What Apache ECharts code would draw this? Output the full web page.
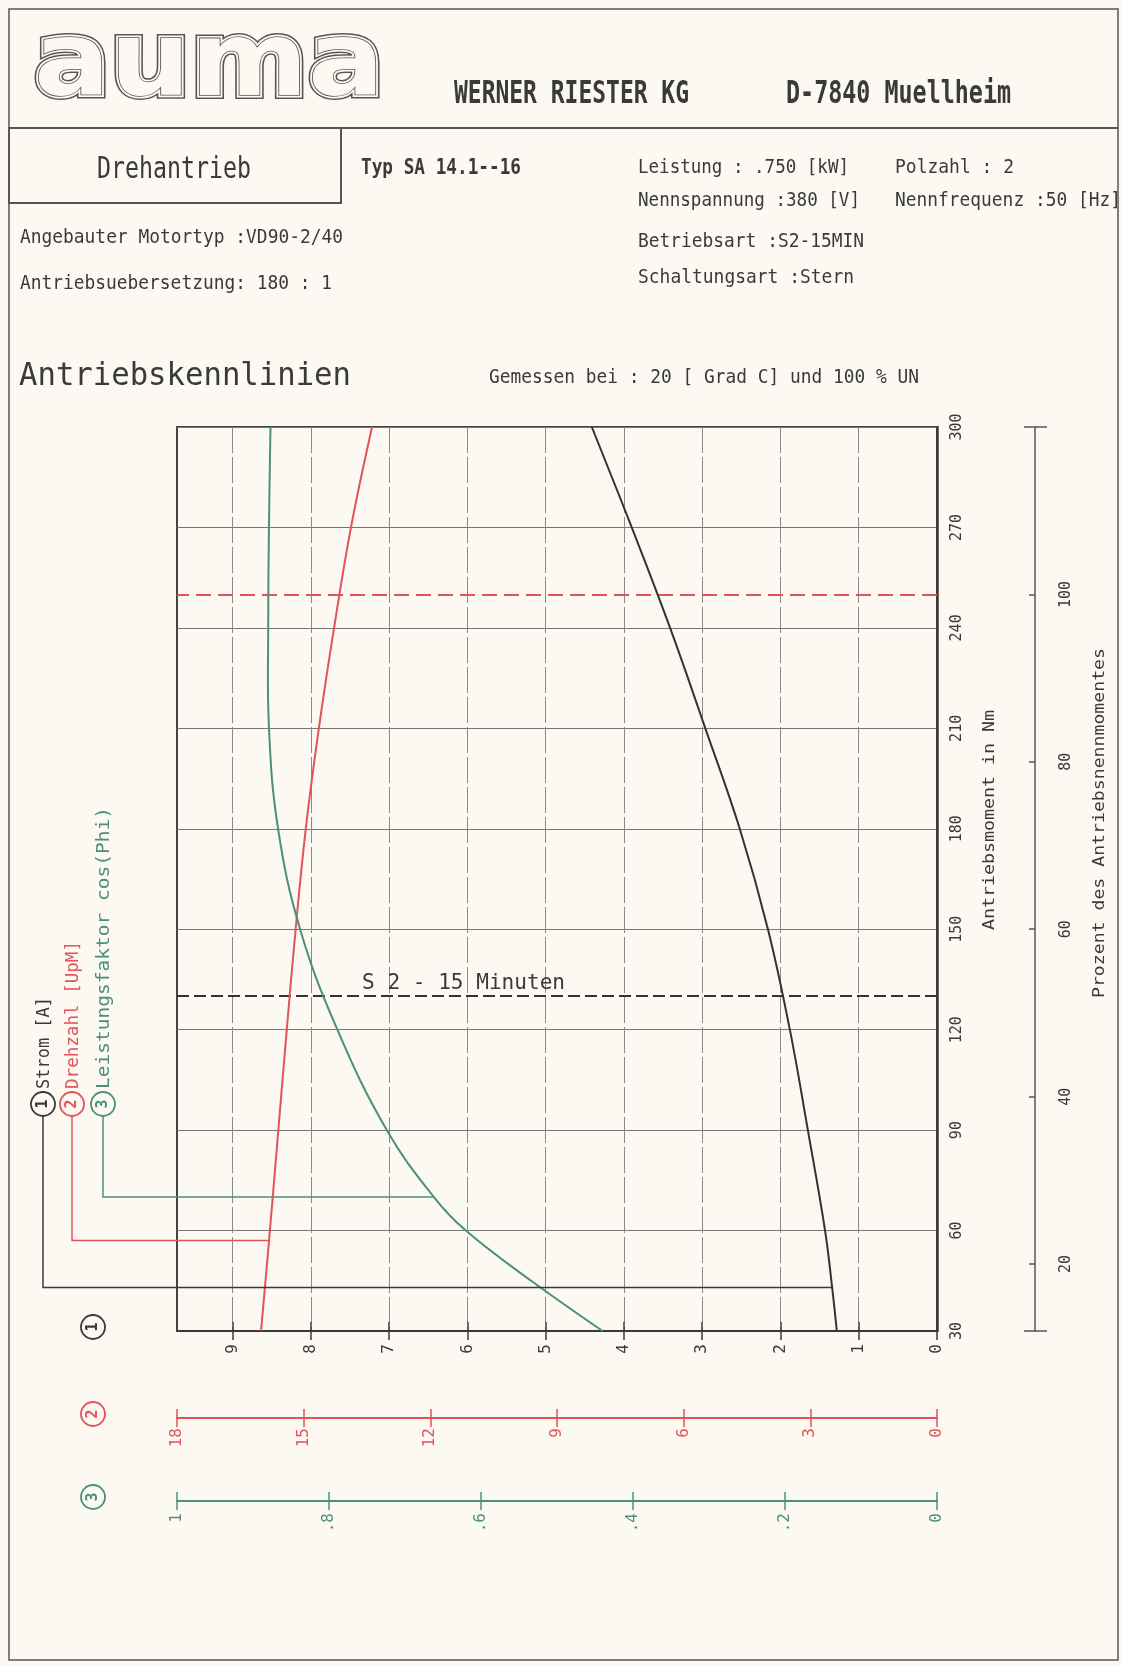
<!DOCTYPE html>
<html>
<head>
<meta charset="utf-8">
<title>Antriebskennlinien SA 14.1-16</title>
<script src="https://cdn.jsdelivr.net/npm/echarts@6/dist/echarts.min.js"></script>
<style>
  html, body { margin: 0; padding: 0; background: #fbf9f1; }
  #chart { width: 1122px; height: 1666px; }
</style>
</head>
<body>
<div id="chart"></div>
<script>
// ---- Kennlinien (Antriebsmoment in Nm -> Messwert) ----
const stromTorque = [30, 43, 60, 90, 120, 150, 180, 210, 240, 270, 300];
const stromAmp    = [1.28, 1.34, 1.43, 1.65, 1.88, 2.16, 2.52, 2.96, 3.41, 3.90, 4.41];

const drehTorque  = [30, 57, 90, 120, 150, 180, 210, 240, 270, 300];
const drehRpm     = [16.01, 15.82, 15.60, 15.40, 15.19, 14.95, 14.64, 14.28, 13.88, 13.38];

const cosTorque   = [30, 45, 60, 70, 90, 120, 150, 180, 210, 240, 270, 300];
const cosPhi      = [0.440, 0.534, 0.620, 0.662, 0.724, 0.789, 0.838, 0.867, 0.879, 0.880, 0.879, 0.877];

// point of each curve where its legend leader line ends
const leaderIndex = [1, 1, 3];

// ---- Skalen ----
const torqueMin = 30, torqueMax = 300, torqueStep = 30;
const nennTorque = 250;          // 100 % Antriebsnennmoment
const s2Torque = 130;            // S2 - 15 Minuten
const percentTicks = [20, 40, 60, 80, 100];
const stromTicks = [0, 1, 2, 3, 4, 5, 6, 7, 8, 9];
const drehTicks = [0, 3, 6, 9, 12, 15, 18];
const cosTicks = [0, 0.2, 0.4, 0.6, 0.8, 1];
const stromMax = 9.71, drehMax = 18, cosMax = 1;

// ---- Beschriftung ----
const legendNames = ['Strom [A]', 'Drehzahl [UpM]', 'Leistungsfaktor cos(Phi)'];
const headerFirm = 'WERNER RIESTER KG';
const headerCity = 'D-7840 Muellheim';
const productName = 'Drehantrieb';
const productType = 'Typ SA 14.1--16';
const motorLines = ['Angebauter Motortyp :VD90-2/40', 'Antriebsuebersetzung: 180 : 1'];
const ratingLeft = ['Leistung : .750 [kW]', 'Nennspannung :380 [V]', 'Betriebsart :S2-15MIN', 'Schaltungsart :Stern'];
const ratingRight = ['Polzahl : 2', 'Nennfrequenz :50 [Hz]'];
const chartTitle = 'Antriebskennlinien';
const chartCondition = 'Gemessen bei : 20 [ Grad C] und 100 % UN';
const s2Label = 'S 2 - 15 Minuten';
const torqueAxisName = 'Antriebsmoment in Nm';
const percentAxisName = 'Prozent des Antriebsnennmomentes';

// ---- Stil ----
const PAPER = '#fbf9f1';
const INK = '#3a3a3a';
const RED = '#e2535b';
const GREEN = '#4c9174';
const GRIDC = '#767676';
const MONO = '"DejaVu Sans Mono", "Liberation Mono", monospace';
const SANS = '"DejaVu Sans", "Liberation Sans", sans-serif';
const GRID = { left: 177, top: 427, width: 760, height: 904 };

const chart = echarts.init(document.getElementById('chart'), null, { renderer: 'canvas', width: 1122, height: 1666 });

function bottomAxis(o) {
  return {
    type: 'value', min: 0, max: o.max, interval: o.interval, inverse: true,
    position: 'bottom', offset: o.offset,
    axisLine: { show: o.line, onZero: false, lineStyle: { color: o.color, width: 2 } },
    axisTick: { show: true, inside: !!o.inside, length: 9, customValues: o.ticks,
                lineStyle: { color: o.color, width: 1.5 } },
    axisLabel: { show: !o.inside, customValues: o.ticks, rotate: 90, margin: o.margin,
                 color: o.color, fontFamily: MONO, fontSize: 16, formatter: o.fmt },
    splitLine: { show: !!o.split, lineStyle: { color: '#8a8a8a', width: 1, type: [26, 4] } }
  };
}
const cosFmt = v => (v === 0 ? '0' : v === 1 ? '1' : '.' + Math.round(v * 10));

// one smooth curve per measured characteristic, drawn through the axis scales
function curveSeries(name, xIndex, points, color) {
  return {
    name, type: 'custom', xAxisIndex: xIndex, yAxisIndex: 0, data: points, z: 5, silent: true,
    encode: { x: 0, y: 1 },
    renderItem: (params, api) => {
      if (params.dataIndex !== 0) return null;
      const pts = points.map(p => api.coord(p));
      return {
        type: 'polyline',
        shape: { points: pts, smooth: 0.4 },
        style: { stroke: color, lineWidth: 2, fill: null }
      };
    }
  };
}

const stromData = stromTorque.map((t, i) => [stromAmp[i], t]);
const drehData = drehTorque.map((t, i) => [drehRpm[i], t]);
const cosData = cosTorque.map((t, i) => [cosPhi[i], t]);

const option = {
  backgroundColor: PAPER,
  animation: false,
  grid: Object.assign({ show: true, borderColor: '#444', borderWidth: 2, backgroundColor: 'transparent' }, GRID),
  xAxis: [
    bottomAxis({ max: stromMax, interval: 1, offset: 0, ticks: stromTicks, color: INK, margin: 13, line: true, split: true }),
    bottomAxis({ max: drehMax, interval: 3, offset: 87, ticks: drehTicks, color: RED, margin: 10, line: true }),
    bottomAxis({ max: cosMax, interval: 0.2, offset: 170, ticks: cosTicks, color: GREEN, margin: 12, line: true, fmt: cosFmt }),
    bottomAxis({ max: stromMax, interval: 1, offset: 0, ticks: stromTicks, color: INK, inside: true, line: false }),
    bottomAxis({ max: drehMax, interval: 3, offset: 87, ticks: drehTicks, color: RED, inside: true, line: false }),
    bottomAxis({ max: cosMax, interval: 0.2, offset: 170, ticks: cosTicks, color: GREEN, inside: true, line: false })
  ],
  yAxis: [
    {
      type: 'value', min: torqueMin, max: torqueMax, interval: torqueStep, position: 'right',
      axisLine: { show: true, onZero: false, lineStyle: { color: INK, width: 2.5 } },
      axisTick: { show: false },
      axisLabel: { rotate: 90, margin: 13, color: INK, fontFamily: MONO, fontSize: 15 },
      splitLine: { show: true, lineStyle: { color: GRIDC, width: 1 } }
    },
    {
      type: 'value', min: torqueMin / nennTorque * 100, max: torqueMax / nennTorque * 100,
      position: 'right', offset: 98,
      axisLine: { show: true, onZero: false, lineStyle: { color: '#555', width: 1.5 } },
      axisTick: { show: true, inside: true, length: 6, customValues: percentTicks, lineStyle: { color: '#555', width: 1.5 } },
      axisLabel: { customValues: percentTicks, rotate: 90, margin: 24, color: INK, fontFamily: MONO, fontSize: 15 },
      splitLine: { show: false }
    }
  ],
  series: [
    {
      name: 'Grenzen', type: 'line', xAxisIndex: 0, yAxisIndex: 0, data: [],
      markLine: {
        silent: true, symbol: 'none', label: { show: false }, animation: false,
        data: [
          { yAxis: nennTorque, lineStyle: { color: RED, width: 2, type: [15, 7] } },
          { yAxis: s2Torque, lineStyle: { color: '#333', width: 2, type: [12, 5] } }
        ]
      }
    },
    curveSeries(legendNames[0], 0, stromData, '#333'),
    curveSeries(legendNames[1], 1, drehData, RED),
    curveSeries(legendNames[2], 2, cosData, GREEN)
  ]
};
chart.setOption(option);

// ---- Texte und Rahmen des Datenblatts ----
const measureCtx = document.createElement('canvas').getContext('2d');
function label(str, o) {
  const weight = o.weight || 'normal';
  const family = o.family || MONO;
  measureCtx.font = weight + ' ' + o.size + 'px ' + family;
  const natural = measureCtx.measureText(str).width;
  const sx = o.width ? o.width / natural : 1;
  const align = o.align || 'left';
  return {
    type: 'text', x: o.x, y: o.y, rotation: o.rotate ? Math.PI / 2 : 0,
    scaleX: sx, scaleY: 1, silent: true, z: 20,
    style: {
      text: str, x: 0, y: 0, fill: o.color || INK,
      fontSize: o.size, fontWeight: weight, fontFamily: family,
      textAlign: align, align: align, textVerticalAlign: 'middle', verticalAlign: 'middle',
      stroke: o.stroke, lineWidth: o.lineWidth || 0
    }
  };
}
function line(x1, y1, x2, y2, color, w) {
  return { type: 'line', silent: true, z: 20, shape: { x1, y1, x2, y2 }, style: { stroke: color, lineWidth: w } };
}
function circleNum(cx, cy, n, color) {
  return [
    { type: 'circle', silent: true, z: 20, shape: { cx, cy, r: 12 }, style: { fill: PAPER, stroke: color, lineWidth: 1.8 } },
    label(String(n), { x: cx, y: cy, size: 15, rotate: true, align: 'center', color, weight: 'bold' })
  ];
}

const g = [];
// page frame
g.push({ type: 'rect', silent: true, z: 1, shape: { x: 9, y: 9, width: 1109, height: 1651 },
         style: { fill: 'none', stroke: '#555', lineWidth: 1.5 } });
g.push(line(9, 128, 1118, 128, '#555', 2));
g.push({ type: 'rect', silent: true, z: 1, shape: { x: 9, y: 128, width: 332, height: 75 },
         style: { fill: 'none', stroke: '#555', lineWidth: 2 } });

// logo, drawn as a double outline
const logoOpts = { x: 34, y: 68, size: 104, width: 350, weight: 'bold', family: SANS };
g.push(label('auma', Object.assign({}, logoOpts, { color: PAPER, stroke: '#555', lineWidth: 8 })));
g.push(label('auma', Object.assign({}, logoOpts, { color: PAPER, stroke: PAPER, lineWidth: 5 })));
g.push(label('auma', Object.assign({}, logoOpts, { color: PAPER, stroke: '#555', lineWidth: 1.6 })));

g.push(label(headerFirm, { x: 454, y: 95, size: 32, width: 235, weight: 'bold' }));
g.push(label(headerCity, { x: 786, y: 95, size: 32, width: 225, weight: 'bold' }));
g.push(label(productName, { x: 97, y: 170, size: 30, width: 154 }));
g.push(label(productType, { x: 361, y: 168, size: 22, width: 160, weight: 'bold' }));
g.push(label(ratingLeft[0], { x: 638, y: 168, size: 20, width: 211 }));
g.push(label(ratingLeft[1], { x: 638, y: 201, size: 20, width: 222 }));
g.push(label(ratingLeft[2], { x: 638, y: 242, size: 20, width: 226 }));
g.push(label(ratingLeft[3], { x: 638, y: 278, size: 20, width: 216 }));
g.push(label(ratingRight[0], { x: 895, y: 168, size: 20, width: 119 }));
g.push(label(ratingRight[1], { x: 895, y: 201, size: 20, width: 226 }));
g.push(label(motorLines[0], { x: 20, y: 238, size: 20, width: 323 }));
g.push(label(motorLines[1], { x: 20, y: 284, size: 20, width: 312 }));

g.push(label(chartTitle, { x: 19, y: 377, size: 32, width: 332 }));
g.push(label(chartCondition, { x: 489, y: 378, size: 19, width: 430 }));

// rotated axis names on the right
g.push(label(torqueAxisName, { x: 990, y: 930, size: 16, width: 220, rotate: true }));
g.push(label(percentAxisName, { x: 1100, y: 998, size: 16, width: 350, rotate: true }));

// S2 operating limit caption, sitting on the dashed line
const s2y = chart.convertToPixel({ yAxisIndex: 0 }, s2Torque);
g.push(label(s2Label, { x: 362, y: s2y - 13, size: 21, width: 203 }));

// end caps of the percentage scale
[torqueMin / nennTorque * 100, torqueMax / nennTorque * 100].forEach(p => {
  const y = chart.convertToPixel({ yAxisIndex: 1 }, p);
  g.push(line(1024, y, 1047, y, '#555', 1.5));
});

// legend: circled numbers, rotated names and leader lines to the curves
const legendColors = [INK, RED, GREEN];
const legendX = [43, 72, 103];
const legendWidths = [92, 148, 282];
const legendCy = 1104;
const curveData = [stromData, drehData, cosData];
for (let i = 0; i < 3; i++) {
  const pt = chart.convertToPixel({ seriesIndex: i + 1 }, curveData[i][leaderIndex[i]]);
  g.push({
    type: 'polyline', silent: true, z: 15,
    shape: { points: [[legendX[i], legendCy + 12], [legendX[i], pt[1]], [pt[0], pt[1]]] },
    style: { stroke: legendColors[i], lineWidth: 1.5, fill: null }
  });
  g.push(...circleNum(legendX[i], legendCy, i + 1, legendColors[i]));
  g.push(label(legendNames[i], { x: legendX[i] + 1, y: legendCy - 15, size: 18, width: legendWidths[i],
                                 rotate: true, color: legendColors[i] }));
}

// circled numbers beside the three value scales
const scaleY = [0, 87, 170].map(off => GRID.top + GRID.height + off);
g.push(...circleNum(93, scaleY[0] - 4, 1, INK));
g.push(...circleNum(93, scaleY[1] - 4, 2, RED));
g.push(...circleNum(93, scaleY[2] - 4, 3, GREEN));

chart.setOption({ graphic: { elements: g } });
</script>
</body>
</html>
